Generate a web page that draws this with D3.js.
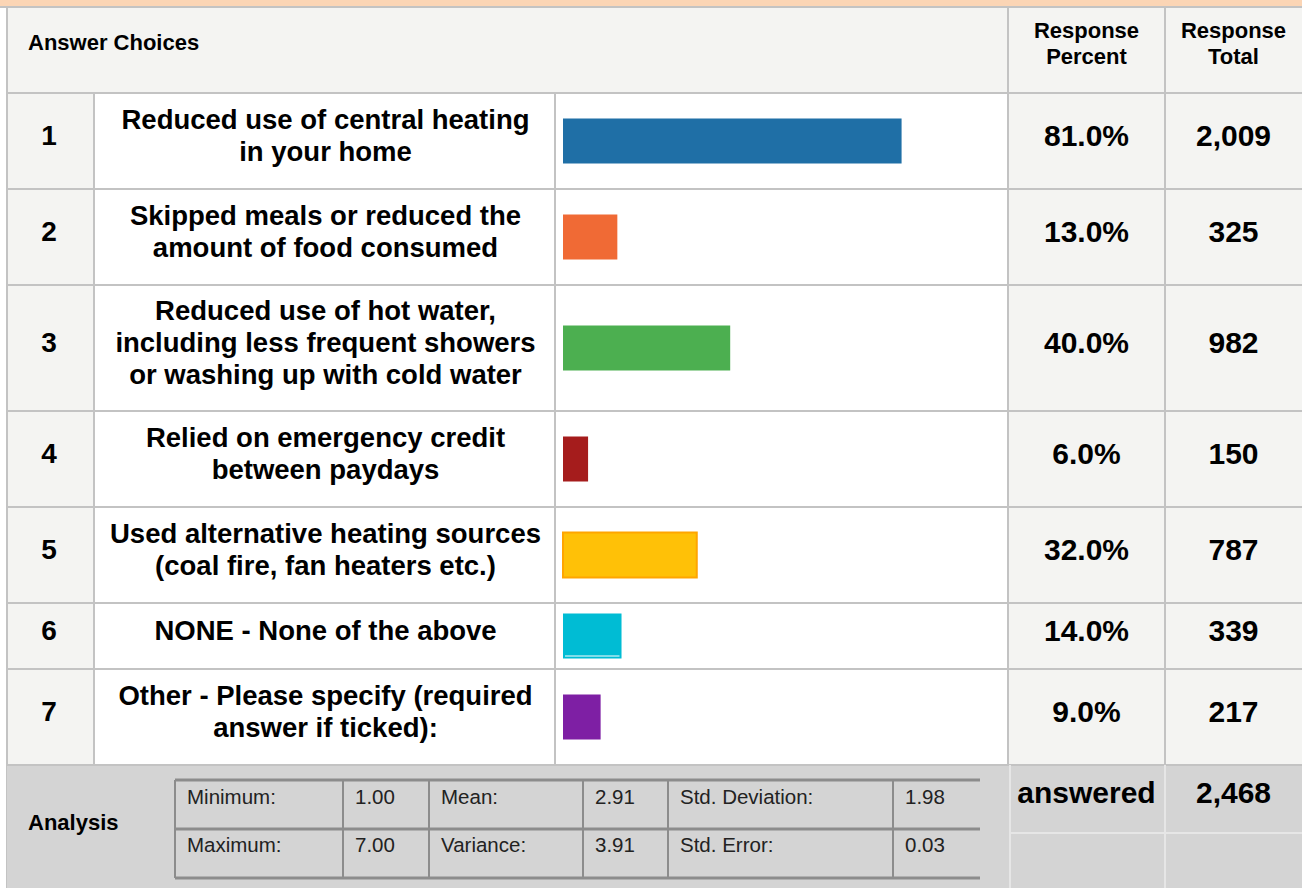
<!DOCTYPE html>
<html>
<head>
<meta charset="utf-8">
<script src="https://cdn.jsdelivr.net/npm/d3@7"></script>
<style>
  body { margin: 0; background: #fff; }
  svg { display: block; font-family: "Liberation Sans", Arial, sans-serif; }
</style>
</head>
<body>
<svg width="1302" height="888"></svg>
<script>
// answer choices, one entry per row (line breaks as shown in the table)
const choiceNumbers = [1, 2, 3, 4, 5, 6, 7];
const choiceLabels = [
    ['Reduced use of central heating', 'in your home'],
    ['Skipped meals or reduced the', 'amount of food consumed'],
    ['Reduced use of hot water,', 'including less frequent showers', 'or washing up with cold water'],
    ['Relied on emergency credit', 'between paydays'],
    ['Used alternative heating sources', '(coal fire, fan heaters etc.)'],
    ['NONE - None of the above'],
    ['Other - Please specify (required', 'answer if ticked):'],
];
const responsePercent = [81.0, 13.0, 40.0, 6.0, 32.0, 14.0, 9.0];
const responseTotal = [2009, 325, 982, 150, 787, 339, 217];
const barColors = ['#1f6fa6', '#f06a35', '#4caf50', '#a51c1c', '#ffc107', '#00bcd4', '#7e1fa4'];

const statLabels = ['Minimum:', 'Mean:', 'Std. Deviation:', 'Maximum:', 'Variance:', 'Std. Error:'];
const statValues = [1.00, 2.91, 1.98, 7.00, 3.91, 0.03];
const answeredTotal = 2468;

const svg = d3.select('svg');
const width = +svg.attr('width');
const height = +svg.attr('height');

const grid = '#c3c3c3';
const cellGrey = '#f4f4f2';

// column edges
const col = { left: 7, num: 94, label: 555, bar: 1008, pct: 1165, right: 1302 };
const headerTop = 7, headerBottom = 93;

// row layout from number of label lines
const rows = choiceNumbers.map((n, i) => ({
    n, lines: choiceLabels[i], pct: responsePercent[i], total: responseTotal[i], color: barColors[i]
}));
let yAcc = headerBottom;
rows.forEach(r => {
    r.y0 = yAcc;
    r.h = 36 + 30 * r.lines.length;
    yAcc += r.h;
});
const tableBottom = yAcc;

const fmtPct = d => d3.format('.1f')(d) + '%';
const fmtInt = d3.format(',');

const xScale = d3.scaleLinear()
    .domain([0, 100])
    .range([0, 418]);

// top band
svg.append('rect').attr('x', 0).attr('y', 0).attr('width', width).attr('height', 6).attr('fill', '#fbd5b5');

// header
const head = svg.append('g');
head.append('rect').attr('x', col.left).attr('y', headerTop)
    .attr('width', width - col.left).attr('height', headerBottom - headerTop).attr('fill', cellGrey);
head.append('text').attr('x', 28).attr('y', 42).attr('dy', '0.35em')
    .attr('font-size', 22).attr('font-weight', 'bold').text('Answer Choices');
[[ (col.bar + col.pct) / 2, ['Response', 'Percent'] ], [ (col.pct + col.right) / 2, ['Response', 'Total'] ]]
    .forEach(([cx, ls]) => {
        ls.forEach((t, j) => {
            head.append('text').attr('x', cx).attr('y', 30 + j * 26).attr('dy', '0.35em')
                .attr('text-anchor', 'middle').attr('font-size', 22).attr('font-weight', 'bold').text(t);
        });
    });

// body rows
const rowG = svg.selectAll('g.row').data(rows).enter().append('g').attr('class', 'row')
    .attr('transform', d => `translate(0,${d.y0})`);

rowG.append('rect').attr('x', col.left).attr('y', 0).attr('width', col.num - col.left)
    .attr('height', d => d.h).attr('fill', cellGrey);
rowG.append('rect').attr('x', col.num).attr('y', 0).attr('width', col.bar - col.num)
    .attr('height', d => d.h).attr('fill', '#fff');
rowG.append('rect').attr('x', col.bar).attr('y', 0).attr('width', col.right - col.bar)
    .attr('height', d => d.h).attr('fill', cellGrey);

const textMid = d => d.h / 2 - 6;

rowG.append('text').attr('x', 49).attr('y', textMid).attr('dy', '0.35em')
    .attr('text-anchor', 'middle').attr('font-size', 28).attr('font-weight', 'bold')
    .text(d => d.n);

rowG.each(function (d) {
    const g = d3.select(this);
    const n = d.lines.length;
    d.lines.forEach((t, j) => {
        g.append('text').attr('x', (col.num + col.label) / 2 + 1)
            .attr('y', textMid(d) + (j - (n - 1) / 2) * 32).attr('dy', '0.35em')
            .attr('text-anchor', 'middle').attr('font-size', 27.5).attr('font-weight', 'bold')
            .text(t);
    });
});

const barH = 45;
rowG.append('rect')
    .attr('x', 563)
    .attr('y', d => d.h / 2 - barH / 2)
    .attr('width', d => xScale(d.pct))
    .attr('height', barH)
    .attr('fill', d => d.color)
    .attr('stroke', (d, i) => i === 4 ? '#ffa500' : 'none')
    .attr('stroke-width', 2);

// thin white streak inside the "NONE" bar, as in the original
rowG.filter((d, i) => i === 5).append('line')
    .attr('x1', 565).attr('x2', d => 563 + xScale(d.pct) - 2)
    .attr('y1', d => d.h / 2 + barH / 2 - 2.5).attr('y2', d => d.h / 2 + barH / 2 - 2.5)
    .attr('stroke', '#fff').attr('stroke-width', 1);

rowG.append('text').attr('x', (col.bar + col.pct) / 2).attr('y', textMid).attr('dy', '0.35em')
    .attr('text-anchor', 'middle').attr('font-size', 30).attr('font-weight', 'bold')
    .text(d => fmtPct(d.pct));
rowG.append('text').attr('x', (col.pct + col.right) / 2).attr('y', textMid).attr('dy', '0.35em')
    .attr('text-anchor', 'middle').attr('font-size', 30).attr('font-weight', 'bold')
    .text(d => fmtInt(d.total));

// grid lines
const lines = svg.append('g').attr('stroke', grid).attr('stroke-width', 2);
lines.append('line').attr('x1', col.left).attr('x2', col.left).attr('y1', 6).attr('y2', height);
lines.append('line').attr('x1', 0).attr('x2', width).attr('y1', headerTop).attr('y2', headerTop);
[headerBottom].concat(rows.map(r => r.y0 + r.h)).forEach(y => {
    lines.append('line').attr('x1', col.left).attr('x2', width).attr('y1', y).attr('y2', y);
});
[col.num, col.label].forEach(x => {
    lines.append('line').attr('x1', x).attr('x2', x).attr('y1', headerBottom).attr('y2', tableBottom);
});
[col.bar, col.pct].forEach(x => {
    lines.append('line').attr('x1', x).attr('x2', x).attr('y1', headerTop).attr('y2', tableBottom);
});

// analysis block
const an = svg.append('g');
an.append('rect').attr('x', col.left).attr('y', tableBottom + 1).attr('width', width - col.left)
    .attr('height', height - tableBottom).attr('fill', '#d4d4d4');
an.append('text').attr('x', 28).attr('y', 822).attr('dy', '0.35em')
    .attr('font-size', 22).attr('font-weight', 'bold').text('Analysis');

const statCols = [175, 343, 429, 583, 668, 893, 980];
const statTop = 780, statMid = 829, statBottom = 878;
const st = an.append('g');
statLabels.forEach((lab, i) => {
    const r = Math.floor(i / 3), c = i % 3;
    const ty = r === 0 ? 797 : 845;
    st.append('text').attr('x', statCols[c * 2] + 12).attr('y', ty).attr('dy', '0.35em')
        .attr('font-size', 20.5).attr('fill', '#222').text(lab);
    st.append('text').attr('x', statCols[c * 2 + 1] + 12).attr('y', ty).attr('dy', '0.35em')
        .attr('font-size', 20.5).attr('fill', '#222').text(d3.format('.2f')(statValues[i]));
});
const stl = st.append('g').attr('stroke', '#8c8c8c');
[statTop, statMid, statBottom].forEach(y => {
    stl.append('line').attr('x1', statCols[0]).attr('x2', statCols[6]).attr('y1', y).attr('y2', y)
        .attr('stroke-width', 3);
});
statCols.slice(0, 6).forEach(x => {
    stl.append('line').attr('x1', x).attr('x2', x).attr('y1', statTop).attr('y2', statBottom).attr('stroke-width', 2);
});

// answered cells
const ans = an.append('g');
ans.append('text').attr('x', (col.bar + col.pct) / 2).attr('y', 792).attr('dy', '0.35em')
    .attr('text-anchor', 'middle').attr('font-size', 30).attr('font-weight', 'bold').text('answered');
ans.append('text').attr('x', (col.pct + col.right) / 2).attr('y', 792).attr('dy', '0.35em')
    .attr('text-anchor', 'middle').attr('font-size', 30).attr('font-weight', 'bold').text(fmtInt(answeredTotal));
const al = ans.append('g').attr('stroke', '#e6e6e6').attr('stroke-width', 2);
al.append('line').attr('x1', col.bar + 2).attr('x2', width).attr('y1', 833).attr('y2', 833);
al.append('line').attr('x1', col.pct).attr('x2', col.pct).attr('y1', tableBottom).attr('y2', height);
al.append('line').attr('x1', col.bar + 2).attr('x2', col.bar + 2).attr('y1', tableBottom).attr('y2', height);
</script>
</body>
</html>
